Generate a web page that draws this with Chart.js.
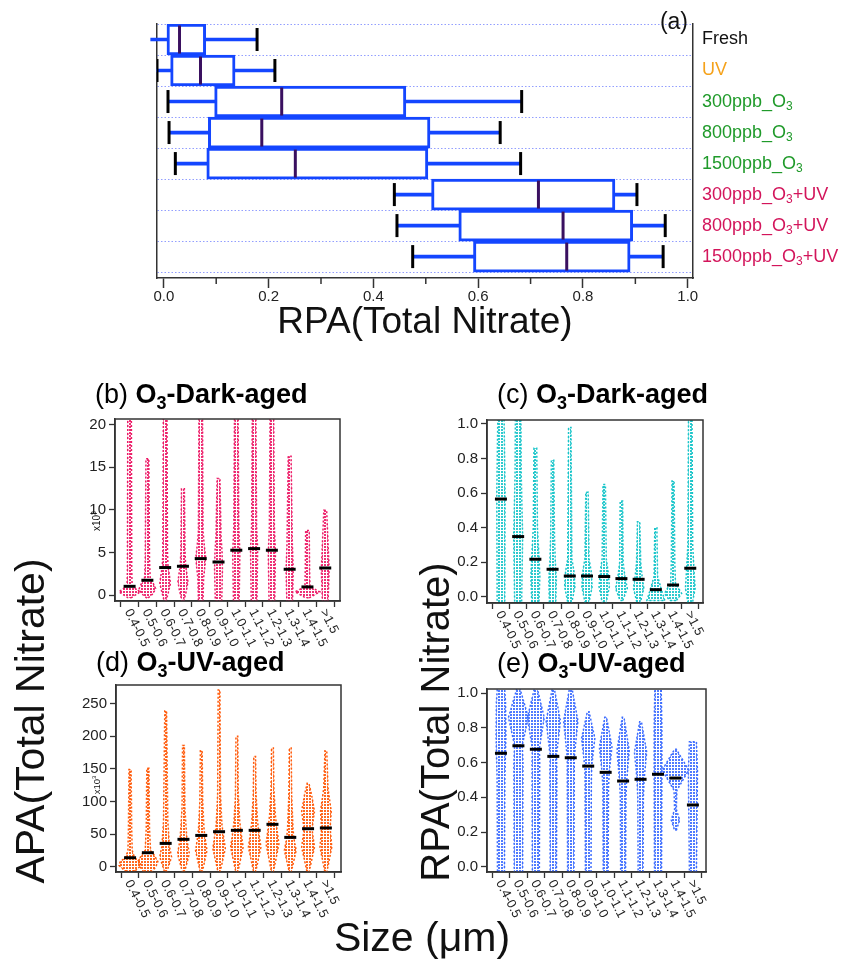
<!DOCTYPE html>
<html>
<head>
<meta charset="utf-8">
<title>RPA / APA total nitrate</title>
<script src="https://cdn.jsdelivr.net/npm/chart.js@4.4.1/dist/chart.umd.min.js"></script>
<style>
  body { margin: 0; background: #fff; }
  #wrap { position: relative; width: 852px; height: 964px; }
  #wrap canvas { position: absolute; left: 0; top: 0; }
</style>
</head>
<body>
<div id="wrap">
  <canvas id="chartA" width="852" height="964"></canvas>
  <canvas id="chartB" width="852" height="964"></canvas>
  <canvas id="chartC" width="852" height="964"></canvas>
  <canvas id="chartD" width="852" height="964"></canvas>
  <canvas id="chartE" width="852" height="964"></canvas>
</div>
<script>
// --- Panel (a): box plots of RPA(Total Nitrate) ---
const GROUPS = ["Fresh", "UV", "300ppb_O₃", "800ppb_O₃", "1500ppb_O₃",
  "300ppb_O₃+UV", "800ppb_O₃+UV", "1500ppb_O₃+UV"];
const GROUP_COLORS = ["#111111", "#f5a21b", "#1f9a2a", "#1f9a2a", "#1f9a2a",
  "#d3155b", "#d3155b", "#d3155b"];
const RPA_LOW = [-0.025, -0.013, 0.008, 0.010, 0.022, 0.440, 0.445, 0.475];
const RPA_Q1 = [0.006, 0.013, 0.097, 0.085, 0.082, 0.511, 0.563, 0.591];
const RPA_MEDIAN = [0.030, 0.070, 0.225, 0.187, 0.251, 0.715, 0.762, 0.769];
const RPA_Q3 = [0.080, 0.136, 0.462, 0.508, 0.504, 0.861, 0.895, 0.890];
const RPA_HIGH = [0.178, 0.212, 0.683, 0.642, 0.681, 0.903, 0.957, 0.953];
const RPA_TICKS = [0, 0.2, 0.4, 0.6, 0.8, 1.0];
const RPA_MINOR_TICKS = [0.1, 0.3, 0.5, 0.7, 0.9];

// --- Panels (b)-(e): violins by size bin ---
const SIZE_BINS = ["0.4-0.5", "0.5-0.6", "0.6-0.7", "0.7-0.8", "0.8-0.9", "0.9-1.0",
  "1.0-1.1", "1.1-1.2", "1.2-1.3", "1.3-1.4", "1.4-1.5", ">1.5"];

// each violin: [value, half width in bin units] from bottom to top
const DARK_APA_MEDIAN = [1.05, 1.76, 3.25, 3.4, 4.3, 3.9, 5.28, 5.47, 5.28, 3.05, 0.98, 3.2];
const DARK_APA_SHAPE = [
  [[-0.3, 0.08], [0.4, 0.6], [1.1, 0.14], [3, 0.12], [21.5, 0.1]],
  [[-0.3, 0.05], [0.2, 0.33], [0.8, 0.46], [1.4, 0.33], [1.9, 0.16], [4, 0.12], [16.0, 0.08]],
  [[-0.7, 0.05], [0.5, 0.2], [1.4, 0.3], [2.6, 0.22], [3.4, 0.16], [5, 0.13], [21.5, 0.1]],
  [[-0.7, 0.05], [0.6, 0.2], [1.6, 0.28], [2.8, 0.2], [3.6, 0.15], [5, 0.12], [12.5, 0.08]],
  [[-0.7, 0.13], [2, 0.16], [3.5, 0.24], [4.5, 0.27], [5.8, 0.2], [7.5, 0.13], [21.5, 0.1]],
  [[-0.7, 0.18], [3, 0.22], [5, 0.2], [7, 0.14], [13.7, 0.08]],
  [[-0.7, 0.16], [5, 0.2], [8, 0.14], [21.5, 0.1]],
  [[-0.7, 0.16], [5.5, 0.2], [8, 0.14], [21.5, 0.1]],
  [[-0.7, 0.16], [5, 0.2], [8, 0.14], [21.5, 0.1]],
  [[-0.7, 0.16], [3, 0.2], [6, 0.15], [16.3, 0.08]],
  [[-0.3, 0.1], [0.4, 0.7], [1.0, 0.14], [3, 0.12], [7.6, 0.1]],
  [[-0.7, 0.16], [3, 0.22], [5, 0.18], [9.96, 0.08]],
];
const DARK_APA_TICKS = [0, 5, 10, 15, 20];

const DARK_RPA_MEDIAN = [0.566, 0.349, 0.218, 0.160, 0.121, 0.121, 0.118, 0.106, 0.102, 0.042, 0.069, 0.166];
const DARK_RPA_SHAPE = [
  [[-0.05, 0.22], [0.6, 0.24], [0.9, 0.2], [1.05, 0.18]],
  [[-0.05, 0.2], [0.35, 0.26], [0.7, 0.18], [1.05, 0.16]],
  [[-0.05, 0.2], [0.12, 0.26], [0.25, 0.2], [0.4, 0.12], [0.86, 0.08]],
  [[-0.05, 0.18], [0.1, 0.22], [0.2, 0.16], [0.35, 0.11], [0.79, 0.07]],
  [[-0.04, 0.1], [0.06, 0.3], [0.15, 0.24], [0.22, 0.12], [0.98, 0.07]],
  [[-0.04, 0.1], [0.06, 0.3], [0.15, 0.24], [0.22, 0.12], [0.605, 0.07]],
  [[-0.04, 0.1], [0.06, 0.3], [0.15, 0.22], [0.22, 0.12], [0.65, 0.07]],
  [[-0.02, 0.08], [0.05, 0.34], [0.12, 0.2], [0.2, 0.1], [0.555, 0.07]],
  [[-0.04, 0.08], [0.05, 0.3], [0.12, 0.2], [0.2, 0.12], [0.435, 0.07]],
  [[-0.02, 0.52], [0.05, 0.3], [0.12, 0.1], [0.40, 0.06]],
  [[-0.02, 0.2], [0.02, 0.5], [0.08, 0.14], [0.2, 0.1], [0.67, 0.06]],
  [[-0.05, 0.1], [0.05, 0.28], [0.15, 0.22], [0.3, 0.14], [1.05, 0.1]],
];
const RPA_PANEL_TICKS = [0, 0.2, 0.4, 0.6, 0.8, 1.0];

const UV_APA_MEDIAN = [13.8, 21.5, 35.8, 42, 48, 53.7, 55.8, 55.8, 65, 45, 58.3, 59.4];
const UV_APA_SHAPE = [
  [[-6, 0.3], [2, 0.62], [8, 0.55], [14, 0.25], [25, 0.12], [60, 0.09], [149, 0.06]],
  [[-9, 0.2], [0, 0.45], [8, 0.56], [18, 0.35], [25, 0.15], [60, 0.09], [151, 0.06]],
  [[-9, 0.05], [15, 0.33], [33, 0.2], [45, 0.18], [70, 0.12], [239, 0.05]],
  [[-9, 0.05], [20, 0.33], [40, 0.2], [55, 0.16], [90, 0.08], [186, 0.05]],
  [[-9, 0.05], [25, 0.32], [46, 0.2], [60, 0.15], [100, 0.08], [178, 0.05]],
  [[-9, 0.05], [28, 0.35], [52, 0.22], [65, 0.16], [110, 0.08], [271, 0.05]],
  [[-9, 0.05], [30, 0.35], [55, 0.22], [70, 0.16], [110, 0.08], [200, 0.05]],
  [[-9, 0.05], [30, 0.35], [55, 0.22], [70, 0.16], [110, 0.08], [169, 0.05]],
  [[-9, 0.05], [35, 0.36], [64, 0.22], [80, 0.16], [120, 0.08], [182, 0.05]],
  [[-9, 0.05], [25, 0.33], [44, 0.2], [60, 0.15], [110, 0.08], [182, 0.05]],
  [[-9, 0.05], [30, 0.36], [58, 0.22], [85, 0.36], [110, 0.2], [128, 0.05]],
  [[-9, 0.05], [30, 0.33], [59, 0.24], [85, 0.3], [120, 0.12], [178, 0.05]],
];
const UV_APA_TICKS = [0, 50, 100, 150, 200, 250];

const UV_RPA_MEDIAN = [0.654, 0.697, 0.677, 0.636, 0.628, 0.58, 0.544, 0.494, 0.504, 0.533, 0.511, 0.356];
const UV_RPA_SHAPE = [
  [[-0.03, 0.2], [0.5, 0.22], [0.75, 0.28], [0.95, 0.26], [1.04, 0.2]],
  [[-0.03, 0.24], [0.6, 0.26], [0.7, 0.22], [0.86, 0.57], [1.04, 0.05]],
  [[-0.03, 0.2], [0.6, 0.22], [0.68, 0.2], [0.86, 0.48], [1.04, 0.05]],
  [[-0.03, 0.18], [0.55, 0.2], [0.64, 0.18], [0.84, 0.41], [1.03, 0.05]],
  [[-0.03, 0.18], [0.55, 0.2], [0.63, 0.2], [0.84, 0.41], [1.04, 0.05]],
  [[-0.03, 0.16], [0.5, 0.18], [0.58, 0.2], [0.74, 0.38], [0.893, 0.05]],
  [[-0.03, 0.14], [0.45, 0.16], [0.54, 0.2], [0.69, 0.36], [0.861, 0.05]],
  [[-0.03, 0.14], [0.4, 0.16], [0.49, 0.2], [0.67, 0.35], [0.861, 0.05]],
  [[-0.03, 0.14], [0.4, 0.16], [0.5, 0.2], [0.66, 0.35], [0.836, 0.05]],
  [[-0.03, 0.2], [0.5, 0.22], [0.8, 0.22], [1.04, 0.18]],
  [[0.21, 0.05], [0.27, 0.24], [0.33, 0.05], [0.44, 0.08], [0.557, 0.76], [0.677, 0.05]],
  [[-0.03, 0.2], [0.35, 0.24], [0.55, 0.26], [0.72, 0.2]],
];

const FONT = "'Liberation Sans', Arial, Helvetica, sans-serif";
const W = 852, H = 964;
Chart.defaults.font.family = FONT;

// --- Text helpers (₃ drawn as subscript, ³ as superscript) ---
function textRuns(text) {
  const out = [];
  for (const ch of text) {
    const kind = ch === "₃" ? "sub" : ch === "³" ? "sup" : "n";
    const c = kind === "n" ? ch : "3";
    const last = out[out.length - 1];
    if (last && last.kind === kind) last.text += c;
    else out.push({ kind, text: c });
  }
  return out;
}

function drawText(ctx, text, x, y, { size = 14, weight = "normal", color = "#111", align = "left" } = {}) {
  const runs = textRuns(text);
  const fontFor = (k) => `${weight} ${k === "n" ? size : Math.round(size * 0.65)}px ${FONT}`;
  let total = 0;
  runs.forEach((r) => {
    ctx.font = fontFor(r.kind);
    r.w = ctx.measureText(r.text).width;
    total += r.w;
  });
  let cx = align === "center" ? x - total / 2 : align === "right" ? x - total : x;
  ctx.save();
  ctx.fillStyle = color;
  ctx.textAlign = "left";
  ctx.textBaseline = "middle";
  runs.forEach((r) => {
    ctx.font = fontFor(r.kind);
    const dy = r.kind === "sub" ? size * 0.28 : r.kind === "sup" ? -size * 0.3 : 0;
    ctx.fillText(r.text, cx, y + dy);
    cx += r.w;
  });
  ctx.restore();
  return total;
}

function drawRotated(ctx, text, x, y, angle, opts) {
  ctx.save();
  ctx.translate(x, y);
  ctx.rotate((angle * Math.PI) / 180);
  drawText(ctx, text, 0, 0, opts);
  ctx.restore();
}

function drawTitle(ctx, prefix, main, x, y, size) {
  const w = drawText(ctx, prefix, x, y, { size, color: "#000" });
  drawText(ctx, main, x + w, y, { size, weight: "bold", color: "#000" });
}

function makeDecor(spec) {
  return {
    id: "decor",
    afterDraw(chart) {
      const { ctx, chartArea: a } = chart;
      ctx.save();
      if (spec.frame) {
        ctx.strokeStyle = "#333";
        ctx.lineWidth = 1.5;
        ctx.strokeRect(a.left, a.top, a.right - a.left, a.bottom - a.top);
      }
      if (spec.sizeLabels) {
        const xs = chart.scales.x;
        SIZE_BINS.forEach((label, i) => {
          drawRotated(ctx, label, xs.getPixelForValue(i) - 2, a.bottom + 9, 63, { size: 13, color: "#222" });
        });
      }
      if (spec.minorTicks) {
        const xs = chart.scales.x;
        ctx.strokeStyle = "#333";
        ctx.lineWidth = 1.5;
        spec.minorTicks.forEach((v) => {
          const px = xs.getPixelForValue(v);
          ctx.beginPath();
          ctx.moveTo(px, a.bottom);
          ctx.lineTo(px, a.bottom + 6);
          ctx.stroke();
        });
      }
      if (spec.rowLabels) {
        const ys = chart.scales.y;
        GROUPS.forEach((g, i) => {
          drawText(ctx, g, a.right + 9, ys.getPixelForValue(i), { size: 18, color: GROUP_COLORS[i] });
        });
      }
      if (spec.title) drawTitle(ctx, spec.title.prefix, spec.title.main, spec.title.x, spec.title.y, 27);
      (spec.texts || []).forEach((t) => {
        drawRotated(ctx, t.text, t.x, t.y, t.angle || 0, { size: t.size, align: t.align || "center", color: "#111" });
      });
      ctx.restore();
    },
  };
}

function hatch(ctx, color) {
  const c = document.createElement("canvas");
  c.width = 3;
  c.height = 3;
  const g = c.getContext("2d");
  g.globalAlpha = 0.9;
  g.fillStyle = color;
  g.fillRect(0, 0, 2, 2);
  return ctx.createPattern(c, "repeat");
}

function violinPoints(i, knots) {
  const right = knots.map(([v, w]) => ({ x: i + w, y: v }));
  const left = knots.slice().reverse().map(([v, w]) => ({ x: i - w, y: v }));
  return [...right, ...left, right[0]];
}

const axisBase = {
  offset: false,
  border: { color: "#333", width: 1.5 },
  grid: { offset: false, drawOnChartArea: false, tickLength: 6, tickColor: "#333", tickWidth: 1.3 },
};

// --- Panel (a) ---
function renderBoxChart() {
  const ctx = document.getElementById("chartA").getContext("2d");
  const area = { left: 157, top: 24, right: 693, bottom: 278 };
  const rows = GROUPS.map((_, i) => i);
  const caps = [];
  rows.forEach((i) => {
    if (RPA_LOW[i] >= -0.013) caps.push({ x: RPA_LOW[i], y: i });
    caps.push({ x: RPA_HIGH[i], y: i });
  });

  new Chart(ctx, {
    type: "bar",
    data: {
      datasets: [
        {
          type: "bar", indexAxis: "y", yAxisID: "y", grouped: false, clip: false,
          data: rows.map((i) => ({ x: [RPA_LOW[i], RPA_HIGH[i]], y: i })),
          backgroundColor: "#1446ff", barThickness: 3, order: 3,
        },
        {
          type: "bar", indexAxis: "y", yAxisID: "y", grouped: false,
          data: rows.map((i) => ({ x: [RPA_Q1[i], RPA_Q3[i]], y: i })),
          backgroundColor: "#ffffff", borderColor: "#1446ff", borderWidth: 3, borderSkipped: false,
          barPercentage: 1, categoryPercentage: 1, order: 2,
        },
        {
          type: "scatter", yAxisID: "y",
          data: rows.map((i) => ({ x: RPA_MEDIAN[i], y: i })),
          pointStyle: "line", pointRotation: 90, pointRadius: 14, pointBorderWidth: 3,
          pointBorderColor: "#3a1060", order: 1,
        },
        {
          type: "scatter", yAxisID: "y", data: caps,
          pointStyle: "line", pointRotation: 90, pointRadius: 11.5, pointBorderWidth: 3,
          pointBorderColor: "#000", order: 1,
        },
      ],
    },
    options: {
      responsive: false, animation: false, events: [],
      layout: { padding: { top: area.top, left: 0, right: 0, bottom: 0 }, autoPadding: false },
      plugins: { legend: { display: false }, tooltip: { enabled: false } },
      scales: {
        x: {
          type: "linear", min: -0.013, max: 1.01, offset: false,
          afterBuildTicks: (s) => { s.ticks = RPA_TICKS.map((value) => ({ value })); },
          afterFit: (s) => { s.height = H - area.bottom; },
          ticks: { callback: (v) => v.toFixed(1), font: { size: 15 }, color: "#222", padding: 0 },
          grid: { offset: false, drawOnChartArea: false, tickLength: 10, tickColor: "#333", tickWidth: 1.5 },
          border: { color: "#333", width: 1.5 },
        },
        y: {
          type: "linear", position: "left", reverse: true, min: -0.5, max: 7.69, offset: false,
          afterBuildTicks: (s) => { s.ticks = GROUPS.concat("").map((_, k) => ({ value: k - 0.5 })); },
          afterFit: (s) => { s.width = area.left; },
          ticks: { display: false },
          grid: { offset: false, color: "rgba(110,125,255,0.75)", lineWidth: 1, drawTicks: false },
          border: { color: "#333", width: 1.5, dash: [1.5, 2] },
        },
        y2: {
          type: "linear", position: "right", min: 0, max: 1, offset: false,
          afterFit: (s) => { s.width = W - area.right; },
          ticks: { display: false },
          grid: { display: false },
          border: { color: "#333", width: 1.5 },
        },
      },
    },
    plugins: [makeDecor({
      rowLabels: true,
      minorTicks: RPA_MINOR_TICKS,
      texts: [
        { text: "(a)", x: 688, y: 23, size: 23, align: "right" },
        { text: "RPA(Total Nitrate)", x: 425, y: 323, size: 37 },
      ],
    })],
  });
}

// --- Panels (b)-(e) ---
function renderViolinChart(p) {
  const ctx = document.getElementById(p.id).getContext("2d");
  const pattern = hatch(ctx, p.color);
  const datasets = p.shapes.map((knots, i) => ({
    data: violinPoints(i, knots),
    showLine: true, fill: "shape", backgroundColor: pattern,
    borderColor: p.color, borderWidth: 1.5, borderDash: [2, 2],
    pointRadius: 0, tension: 0, order: 2,
  }));
  datasets.push({
    data: p.medians.map((m, i) => ({ x: i, y: m })),
    showLine: false, pointStyle: "line", pointRadius: 6, pointBorderWidth: 3,
    pointBorderColor: "#000", order: 1,
  });

  new Chart(ctx, {
    type: "scatter",
    data: { datasets },
    options: {
      responsive: false, animation: false, events: [],
      layout: { padding: { top: p.area.top, left: 0, right: W - p.area.right, bottom: 0 }, autoPadding: false },
      plugins: { legend: { display: false }, tooltip: { enabled: false } },
      scales: {
        x: {
          ...axisBase, type: "linear", min: p.x[0], max: p.x[1],
          afterBuildTicks: (s) => { s.ticks = SIZE_BINS.concat("").map((_, k) => ({ value: k - 0.5 })); },
          afterFit: (s) => { s.height = H - p.area.bottom; },
          ticks: { callback: () => "", autoSkip: false },
        },
        y: {
          ...axisBase, type: "linear", min: p.y[0], max: p.y[1],
          afterBuildTicks: (s) => { s.ticks = p.yTicks.map((value) => ({ value })); },
          afterFit: (s) => { s.width = p.area.left; },
          ticks: { callback: (v) => v.toFixed(p.decimals), font: { size: 15 }, color: "#222", padding: 3 },
        },
      },
    },
    plugins: [makeDecor({ frame: true, sizeLabels: true, title: p.title, texts: p.texts })],
  });
}

renderBoxChart();

renderViolinChart({
  id: "chartB", area: { left: 115, top: 419, right: 340, bottom: 601 },
  x: [-0.82, 11.83], y: [-0.67, 20.66], yTicks: DARK_APA_TICKS, decimals: 0,
  color: "#ec1a66", medians: DARK_APA_MEDIAN, shapes: DARK_APA_SHAPE,
  title: { prefix: "(b) ", main: "O₃-Dark-aged", x: 95, y: 396 },
  texts: [
    { text: "x10³", x: 97, y: 521, size: 10, angle: -90 },
    { text: "APA(Total Nitrate)", x: 33, y: 721, size: 41, angle: -90 },
  ],
});

renderViolinChart({
  id: "chartC", area: { left: 487, top: 420, right: 703, bottom: 603 },
  x: [-0.81, 11.74], y: [-0.035, 1.023], yTicks: RPA_PANEL_TICKS, decimals: 1,
  color: "#17c4c9", medians: DARK_RPA_MEDIAN, shapes: DARK_RPA_SHAPE,
  title: { prefix: "(c) ", main: "O₃-Dark-aged", x: 497, y: 396 },
  texts: [
    { text: "RPA(Total Nitrate)", x: 438, y: 722, size: 40, angle: -90 },
  ],
});

renderViolinChart({
  id: "chartD", area: { left: 116, top: 685, right: 341, bottom: 872 },
  x: [-0.79, 11.85], y: [-8.1, 278.7], yTicks: UV_APA_TICKS, decimals: 0,
  color: "#ff5a0a", medians: UV_APA_MEDIAN, shapes: UV_APA_SHAPE,
  title: { prefix: "(d) ", main: "O₃-UV-aged", x: 96, y: 664 },
  texts: [
    { text: "x10³", x: 97, y: 785, size: 9.5, angle: -90 },
    { text: "Size (μm)", x: 422, y: 940, size: 41 },
  ],
});

renderViolinChart({
  id: "chartE", area: { left: 487, top: 689, right: 706, bottom: 872 },
  x: [-0.8, 11.75], y: [-0.03, 1.024], yTicks: RPA_PANEL_TICKS, decimals: 1,
  color: "#3d6dff", medians: UV_RPA_MEDIAN, shapes: UV_RPA_SHAPE,
  title: { prefix: "(e) ", main: "O₃-UV-aged", x: 497, y: 665 },
});
</script>
</body>
</html>
